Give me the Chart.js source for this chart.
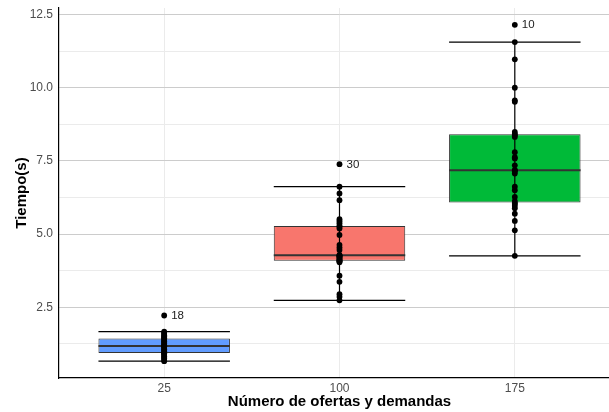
<!DOCTYPE html>
<html>
<head>
<meta charset="utf-8">
<script src="https://cdn.jsdelivr.net/npm/chart.js@4/dist/chart.umd.min.js"></script>
<style>
  html, body { margin: 0; padding: 0; background: #ffffff; overflow: hidden; width: 609px; height: 412px; }
  canvas { display: block; }
</style>
</head>
<body>
<canvas id="chart" width="624" height="412"></canvas>
<script>
// Categories on the x axis: number of offers and demands
const categories = ['25', '100', '175'];

// Execution times (s), 30 runs per problem size, in run order
const tiempos25 = [0.66, 0.70, 0.75, 0.79, 0.83, 0.87, 0.91, 0.93, 0.96, 1.00,
                   1.04, 1.07, 1.11, 1.15, 1.17, 1.19, 1.22, 2.22, 1.26, 1.30,
                   1.34, 1.38, 1.42, 1.44, 1.47, 1.51, 1.55, 1.59, 1.63, 1.67];
const tiempos100 = [2.74, 2.86, 2.95, 3.37, 3.58, 4.04, 4.07, 4.09, 4.10, 4.14,
                    4.18, 4.21, 4.24, 4.26, 4.27, 4.29, 4.46, 4.54, 4.63, 4.97,
                    5.19, 5.25, 5.29, 5.37, 5.44, 5.51, 6.16, 6.39, 6.62, 7.39];
const tiempos175 = [4.26, 5.13, 5.45, 5.70, 5.88, 5.96, 6.03, 6.06, 6.13, 12.15,
                    6.27, 6.50, 6.62, 7.07, 7.14, 7.17, 7.19, 7.35, 7.58, 7.63,
                    7.80, 8.32, 8.38, 8.42, 8.49, 9.52, 9.57, 10.00, 10.97, 11.56];

// Tick values of the y axis (labelled) and the minor grid in between
const yTicks = [2.5, 5.0, 7.5, 10.0, 12.5];
const yMinorTicks = [1.25, 3.75, 6.25, 8.75, 11.25];

const groups = [tiempos25, tiempos100, tiempos175];
const fills = ['#619CFF', '#F8766D', '#00BA38'];

// Quantile (type 7) of a sorted array
function quantile(sorted, p) {
  const h = (sorted.length - 1) * p;
  const lo = Math.floor(h);
  const hi = Math.min(lo + 1, sorted.length - 1);
  return sorted[lo] + (h - lo) * (sorted[hi] - sorted[lo]);
}

// Tukey box statistics with 1.5 * IQR whiskers
function boxStats(values) {
  const s = [...values].sort((a, b) => a - b);
  const q1 = quantile(s, 0.25), med = quantile(s, 0.5), q3 = quantile(s, 0.75);
  const iqr = q3 - q1;
  const loF = q1 - 1.5 * iqr, hiF = q3 + 1.5 * iqr;
  const inside = s.filter(v => v >= loF && v <= hiF);
  const outliers = values.map((v, i) => ({ v, i })).filter(o => o.v < loF || o.v > hiF);
  return { q1, med, q3, min: inside[0], max: inside[inside.length - 1], outliers };
}

const stats = groups.map(boxStats);

// y range padded by 5% of the data span
const allValues = groups.flat();
const dataMin = Math.min(...allValues), dataMax = Math.max(...allValues);
const span = dataMax - dataMin;
const yMin = dataMin - 0.05 * span;
const yMax = dataMax + 0.05 * span;

const BOX_WIDTH = 0.75;

// Whiskers, median lines and outlier labels drawn with the chart scales
const boxExtras = {
  id: 'boxExtras',
  afterDatasetDraw(chart, args) {
    if (args.index !== 0) return;
    const { ctx, scales: { x, y } } = chart;
    ctx.save();
    stats.forEach((s, g) => {
      const cx = x.getPixelForValue(g + 1);
      const xl = x.getPixelForValue(g + 1 - BOX_WIDTH / 2);
      const xr = x.getPixelForValue(g + 1 + BOX_WIDTH / 2);
      // median
      ctx.strokeStyle = '#333333';
      ctx.lineWidth = 2;
      ctx.beginPath();
      const ym = y.getPixelForValue(s.med);
      ctx.moveTo(xl, ym); ctx.lineTo(xr, ym);
      ctx.stroke();
      // error bar
      ctx.strokeStyle = '#000000';
      ctx.lineWidth = 1.2;
      const yTop = y.getPixelForValue(s.max);
      const yBot = y.getPixelForValue(s.min);
      ctx.beginPath();
      ctx.moveTo(xl, yTop); ctx.lineTo(xr, yTop);
      ctx.moveTo(xl, yBot); ctx.lineTo(xr, yBot);
      ctx.moveTo(cx, yTop); ctx.lineTo(cx, yBot);
      ctx.stroke();
    });
    ctx.restore();
  },
  afterDatasetsDraw(chart) {
    const { ctx, scales: { x, y } } = chart;
    ctx.save();
    ctx.font = '11.5px "Liberation Sans", Arial, sans-serif';
    ctx.fillStyle = '#222222';
    ctx.textAlign = 'left';
    ctx.textBaseline = 'middle';
    stats.forEach((s, g) => {
      s.outliers.forEach(o => {
        ctx.fillText(String(o.i + 1), x.getPixelForValue(g + 1) + 7, y.getPixelForValue(o.v) + 0.5);
      });
    });
    ctx.restore();
  }
};

const points = [];
groups.forEach((vals, g) => vals.forEach(v => points.push({ x: g + 1, y: v })));

const tickFont = { family: '"Liberation Sans", Arial, sans-serif', size: 12 };
const titleFont = { family: '"Liberation Sans", Arial, sans-serif', size: 15, weight: 'bold' };

new Chart(document.getElementById('chart'), {
  type: 'bar',
  data: {
    datasets: [
      {
        type: 'bar',
        data: stats.map((s, g) => ({ x: g + 1, y: [s.q1, s.q3] })),
        backgroundColor: fills,
        borderColor: '#333333',
        borderWidth: 1,
        borderSkipped: false,
        barPercentage: BOX_WIDTH,
        categoryPercentage: 1,
        grouped: false,
        order: 2
      },
      {
        type: 'scatter',
        data: points,
        backgroundColor: '#000000',
        borderWidth: 0,
        pointRadius: 2.9,
        order: 1
      }
    ]
  },
  options: {
    responsive: false,
    devicePixelRatio: 1,
    animation: false,
    layout: { padding: { top: 8, right: 0, bottom: 0, left: 0 } },
    plugins: { legend: { display: false }, tooltip: { enabled: false } },
    scales: {
      x: {
        type: 'linear',
        min: 0.4,
        max: 3.6,
        offset: false,
        afterBuildTicks(s) { s.ticks = categories.map((c, i) => ({ value: i + 1 })); },
        afterFit(s) { s.height = 34; s.paddingLeft = 0; s.paddingRight = 0; },
        ticks: {
          autoSkip: false, maxRotation: 0, padding: 3.5,
          color: '#4d4d4d', font: tickFont,
          callback: (v, i) => categories[i]
        },
        grid: { color: '#ebebeb', lineWidth: 1, drawTicks: false, offset: false },
        border: { display: true, color: '#000000', width: 1.2 },
        title: {
          display: true, text: 'Número de ofertas y demandas',
          color: '#000000', font: titleFont, padding: { top: 0, bottom: 1.5 }
        }
      },
      y: {
        type: 'linear',
        min: yMin,
        max: yMax,
        afterBuildTicks(s) {
          s.ticks = [...yMinorTicks, ...yTicks].sort((a, b) => a - b).map(v => ({ value: v }));
        },
        afterFit(s) { s.width = 59; s.paddingTop = 0; s.paddingBottom = 0; },
        ticks: {
          autoSkip: false, padding: 6,
          color: '#4d4d4d', font: tickFont,
          callback: (v) => yTicks.includes(v) ? v.toFixed(1) : ''
        },
        grid: {
          color: (c) => yTicks.includes(c.tick && c.tick.value) ? '#cccccc' : '#ebebeb',
          lineWidth: 1, drawTicks: false
        },
        border: { display: true, color: '#000000', width: 1.2 },
        title: {
          display: true, text: 'Tiempo(s)',
          color: '#000000', font: titleFont, padding: { top: 12.5, bottom: 0 }
        }
      }
    }
  },
  plugins: [boxExtras]
});
</script>
</body>
</html>
